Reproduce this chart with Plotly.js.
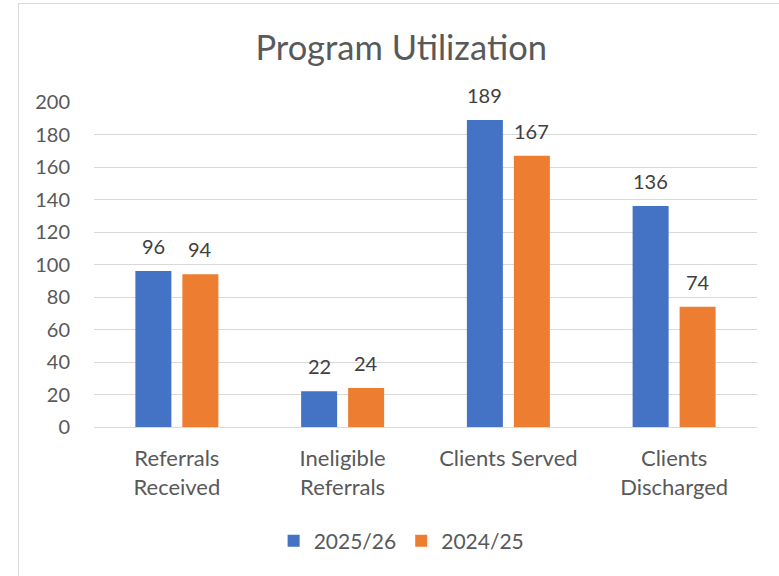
<!DOCTYPE html>
<html><head><meta charset="utf-8">
<script src="https://cdn.plot.ly/plotly-3.0.1.min.js"></script>
<style>
html,body{margin:0;padding:0;background:#fff;overflow:hidden}
#wrap{position:relative;width:779px;height:576px}
#chart{position:absolute;left:0;top:0;width:779px;height:576px}
#frame{position:absolute;left:18px;top:3px;width:800px;height:600px;border:1px solid #d9d9d9;box-sizing:border-box;pointer-events:none}
</style></head>
<body><div id="wrap"><div id="chart"></div><div id="frame"></div></div>
<script>
const categories = ["Referrals<br>Received", "Ineligible<br>Referrals", "Clients Served", "Clients<br>Discharged"];
const series2526 = [96, 22, 189, 136];
const series2425 = [94, 24, 167, 74];
const seriesNames = ["2025/26", "2024/25"];
const yTicks = [0, 20, 40, 60, 80, 100, 120, 140, 160, 180, 200];

const FONT = "Lato, 'Open Sans', sans-serif";
const blue = "#4472C4", orange = "#ED7D31";

const traces = [
  {type: "bar", x: categories, y: series2526, name: seriesNames[0], marker: {color: blue}, hoverinfo: "skip"},
  {type: "bar", x: categories, y: series2425, name: seriesNames[1], marker: {color: orange}, hoverinfo: "skip"}
];

const annotations = [];
[[series2526, -23.5], [series2425, 23.5]].forEach(([vals, dx]) => {
  vals.forEach((v, i) => annotations.push({
    x: categories[i], y: v, xref: "x", yref: "y", text: String(v), showarrow: false,
    xshift: dx, yshift: 25, yanchor: "middle", font: {family: FONT, size: 20, color: "#404040"}
  }));
});

const layout = {
  width: 779, height: 576,
  margin: {l: 94, r: 22, t: 102, b: 149},
  paper_bgcolor: "rgba(0,0,0,0)", plot_bgcolor: "#fff",
  title: {text: "Program Utilization", x: 0.515, xanchor: "center", y: 1 - 48/576, yanchor: "middle",
          font: {family: FONT, size: 34.5, color: "#595959"}},
  barmode: "group", bargap: 0.433, bargroupgap: 0.234,
  xaxis: {tickfont: {family: FONT, size: 22, color: "#595959"}, showline: true, linecolor: "#d9d9d9", linewidth: 1,
          ticks: "", ticklabelstandoff: 12, fixedrange: true},
  yaxis: {range: [0, 200], tickvals: yTicks, ticktext: yTicks.map(String), showgrid: true, gridcolor: "#d9d9d9",
          zeroline: false, tickfont: {family: FONT, size: 20, color: "#595959"}, ticks: "", ticklabelstandoff: 23,
          fixedrange: true},
  showlegend: true,
  legend: {orientation: "h", x: 0.464, xanchor: "center", y: -0.351, yanchor: "middle",
           font: {family: FONT, size: 21, color: "#595959"}, itemwidth: 30, traceorder: "normal"},
  annotations: annotations
};
Plotly.newPlot("chart", traces, layout, {staticPlot: true, displayModeBar: false});
</script></body></html>
